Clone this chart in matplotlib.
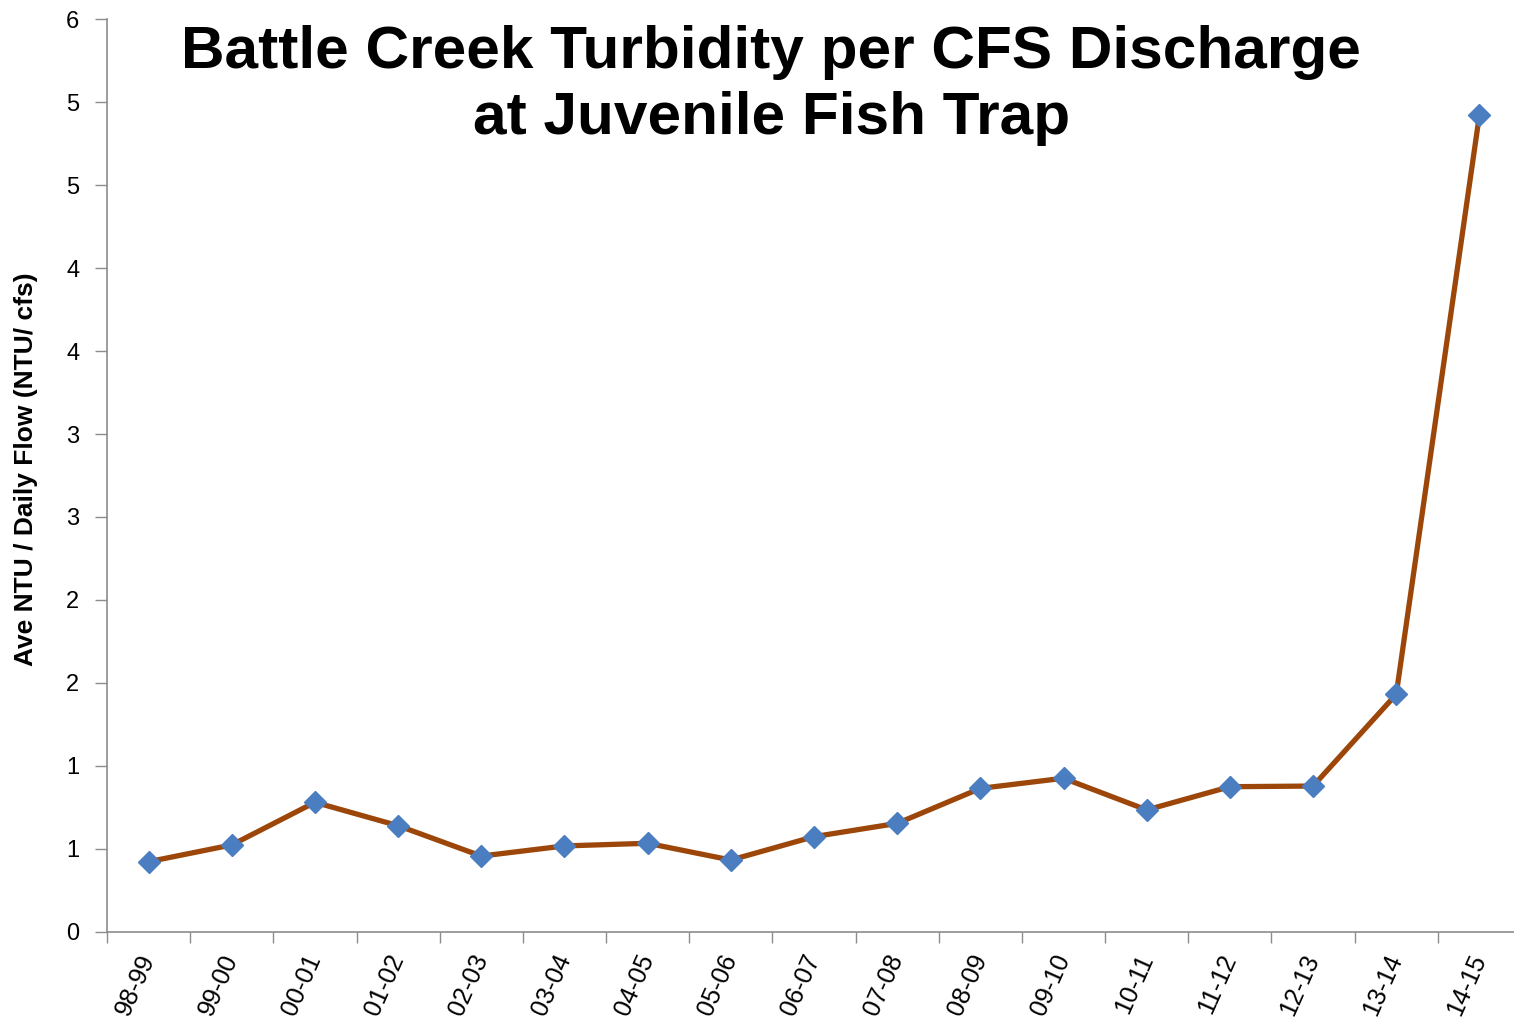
import numpy as np
import matplotlib
matplotlib.use("Agg")
import matplotlib.pyplot as plt
from matplotlib.ticker import FuncFormatter, MultipleLocator

plt.rcParams['font.family'] = ['Liberation Sans', 'DejaVu Sans']

seasons = ["98-99", "99-00", "00-01", "01-02", "02-03", "03-04", "04-05", "05-06",
           "06-07", "07-08", "08-09", "09-10", "10-11", "11-12", "12-13", "13-14", "14-15"]
ntu_per_cfs = [0.422, 0.523, 0.780, 0.639, 0.456, 0.517, 0.533, 0.432,
               0.573, 0.653, 0.864, 0.925, 0.734, 0.874, 0.878, 1.431, 4.923]

title_lines = ["Battle Creek Turbidity per CFS Discharge", "at Juvenile Fish Trap"]
ylabel = "Ave NTU / Daily Flow (NTU/ cfs)"

fig = plt.figure(figsize=(15.14, 10.22), dpi=100)
ax = fig.add_axes([107 / 1514, 90.3 / 1022, 1414 / 1514, 912.4 / 1022])

x = np.arange(len(seasons))
ax.plot(x, ntu_per_cfs, color="#9C4709", lw=3.8, zorder=2)
ax.plot(x, ntu_per_cfs, ls="none", marker="D", ms=11, color="#4A7EC0", zorder=3)

ax.set_xlim(-0.5, len(seasons) - 0.5)
ax.set_ylim(0, 5.5)
ax.yaxis.set_major_locator(MultipleLocator(0.5))
# whole-number labels, rounding halves upward
ax.yaxis.set_major_formatter(FuncFormatter(lambda v, p: f"{int(np.floor(v + 0.5 + 1e-9))}"))

ax.set_xticks(x)
ax.set_xticklabels(seasons, rotation=66, ha="right", va="center", rotation_mode="anchor",
                   fontsize=18)
ax.set_xticks(np.arange(-0.5, len(seasons), 1.0), minor=True)
ax.tick_params(axis="x", which="major", length=0, pad=17)
ax.tick_params(axis="x", which="minor", length=8, width=1, color="#8C8C8C", direction="out")
ax.tick_params(axis="y", which="major", length=9, width=1, color="#8C8C8C", labelsize=17, pad=11)

for side in ("top", "right"):
    ax.spines[side].set_visible(False)
for side in ("left", "bottom"):
    ax.spines[side].set_color("#8C8C8C")
    ax.spines[side].set_linewidth(1.2)

ax.set_ylabel(ylabel, fontsize=19, fontweight="bold")
ax.yaxis.set_label_coords(-0.0488, 0.507)

fig.text(0.5095, 1 - 68 / 1022, title_lines[0], ha="center", va="baseline",
         fontsize=43.5, fontweight="bold")
fig.text(0.5095, 1 - 134 / 1022, title_lines[1], ha="center", va="baseline",
         fontsize=43.5, fontweight="bold")

fig.savefig("out.png", dpi=100)
